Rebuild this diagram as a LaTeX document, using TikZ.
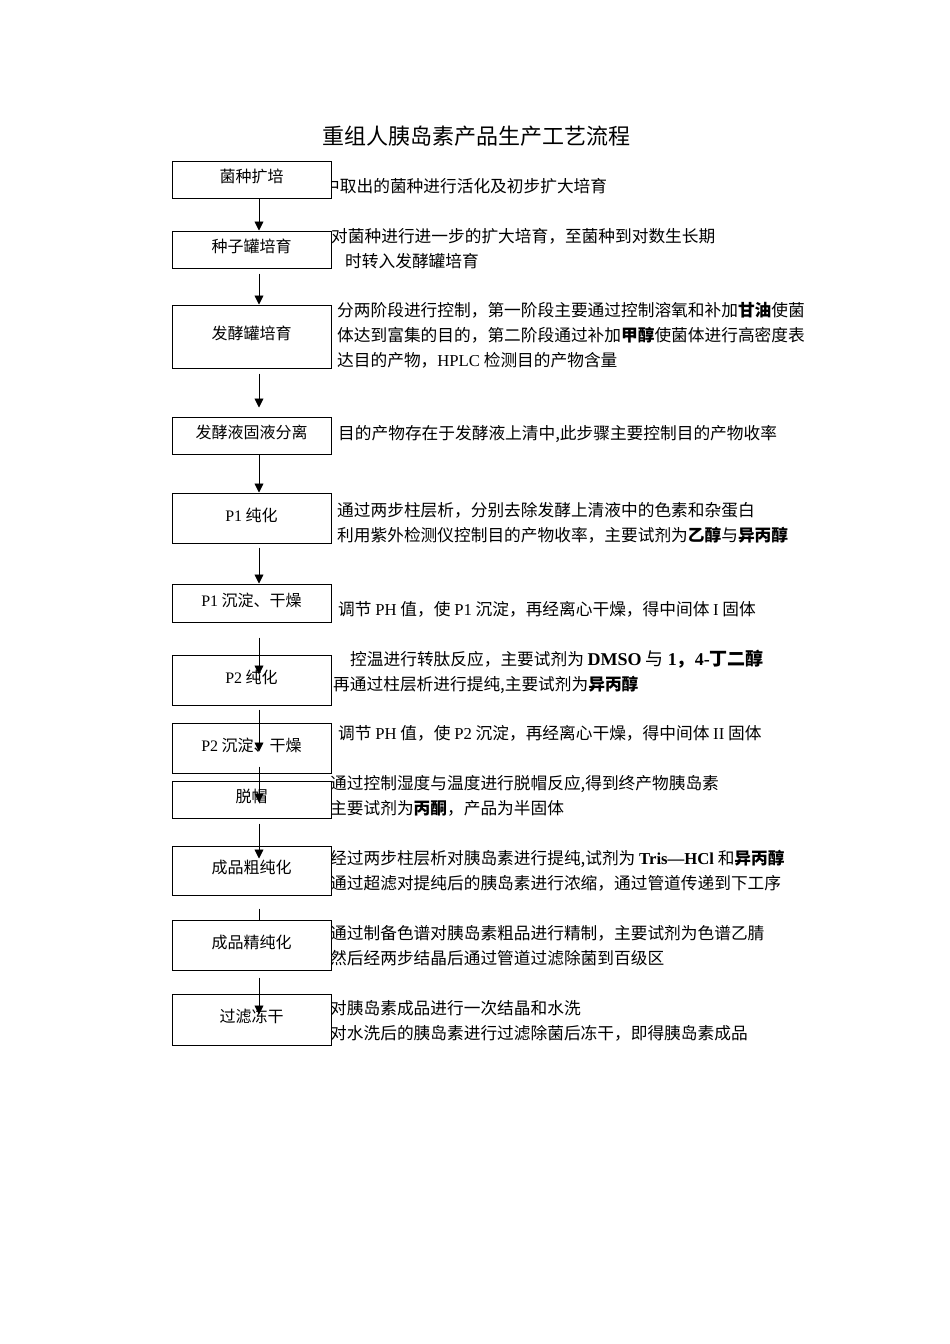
\documentclass[tikz,border=0pt]{standalone}
\usepackage{fontspec}
\setmainfont{Noto Sans CJK SC}
\newfontfamily\lat{Liberation Serif}
\usetikzlibrary{arrows.meta}
\newcommand{\la}[1]{{\lat #1}}
\newcommand{\lb}[1]{{\lat\bfseries #1}}

\begin{document}
\begin{tikzpicture}[x=1pt, y=-1pt,
    stage/.style={draw, fill=white, line width=1pt, minimum width=159pt, inner sep=0pt, text height=12pt, text depth=6pt, font=\fontsize{16}{20}\selectfont},
    note/.style={anchor=west, align=left, inner sep=0pt, font=\fontsize{16.7}{25}\selectfont},
    flow/.style={line width=0.9pt, -{Triangle[length=9pt,width=9pt]}}]

    \useasboundingbox (0,0) rectangle (950,1344);

    % title
    \node[font=\fontsize{22}{26}\selectfont] (title) at (476,136) {重组人胰岛素产品生产工艺流程};

    % notes
    \node[note] (n1) at (323,186) {中取出的菌种进行活化及初步扩大培育};
    \node[note] (n2) at (331,248.5) {对菌种进行进一步的扩大培育，至菌种到对数生长期\\\hspace*{14pt}时转入发酵罐培育};
    \node[note] (n3) at (337,335.5) {分两阶段进行控制，第一阶段主要通过控制溶氧和补加\textbf{甘油}使菌\\体达到富集的目的，第二阶段通过补加\textbf{甲醇}使菌体进行高密度表\\达目的产物，\la{HPLC} 检测目的产物含量};
    \node[note] (n4) at (338,434) {目的产物存在于发酵液上清中,此步骤主要控制目的产物收率};
    \node[note] (n5) at (337,522.5) {通过两步柱层析，分别去除发酵上清液中的色素和杂蛋白\\利用紫外检测仪控制目的产物收率，主要试剂为\textbf{乙醇}与\textbf{异丙醇}};
    \node[note] (n6) at (338,609) {调节 \la{PH} 值，使 \la{P1} 沉淀，再经离心干燥，得中间体 \la{I} 固体};
    \node[note] (n7) at (333,671.5) {\hspace*{17pt}控温进行转肽反应，主要试剂为 {\fontsize{18}{25}\selectfont\lb{DMSO} 与 \textbf{\lat 1}\textbf{，}\lb{4-}\textbf{丁二醇}}\\再通过柱层析进行提纯,主要试剂为\textbf{异丙醇}};
    \node[note] (n8) at (338,733) {调节 \la{PH} 值，使 \la{P2} 沉淀，再经离心干燥，得中间体 \la{II} 固体};
    \node[note] (n9) at (330,796) {通过控制湿度与温度进行脱帽反应,得到终产物胰岛素\\主要试剂为\textbf{丙酮}，产品为半固体};
    \node[note] (n10) at (330,870.5) {经过两步柱层析对胰岛素进行提纯,试剂为 \lb{Tris—HCl} 和\textbf{异丙醇}\\通过超滤对提纯后的胰岛素进行浓缩，通过管道传递到下工序};
    \node[note] (n11) at (330,945.5) {通过制备色谱对胰岛素粗品进行精制，主要试剂为色谱乙腈\\然后经两步结晶后通过管道过滤除菌到百级区};
    \node[note] (n12) at (330,1020.5) {对胰岛素成品进行一次结晶和水洗\\对水洗后的胰岛素进行过滤除菌后冻干，即得胰岛素成品};

    % stages
    \node[stage, minimum height=37pt] (s1) at (251.5,179.5) {菌种扩培};
    \node[stage, minimum height=37pt] (s2) at (251.5,249.5) {种子罐培育};
    \node[stage, minimum height=63pt] (s3) at (251.5,336.5) {发酵罐培育};
    \node[stage, minimum height=37pt] (s4) at (251.5,435.5) {发酵液固液分离};
    \node[stage, minimum height=50pt] (s5) at (251.5,518) {\la{P1} 纯化};
    \node[stage, minimum height=38pt] (s6) at (251.5,603) {\la{P1} 沉淀、干燥};
    \node[stage, minimum height=50pt] (s7) at (251.5,680) {\la{P2} 纯化};
    \node[stage, minimum height=50pt] (s8) at (251.5,748) {\la{P2} 沉淀、干燥};
    \node[stage, minimum height=37pt] (s9) at (251.5,799.5) {脱帽};
    \node[stage, minimum height=49pt] (s10) at (251.5,870.5) {成品粗纯化};
    \node[stage, minimum height=50pt] (s11) at (251.5,945) {成品精纯化};
    \node[stage, minimum height=51pt] (s12) at (251.5,1019.5) {过滤冻干};

    % arrows
    \draw[flow] ([xshift=7.5pt]s1.south) -- ([xshift=7.5pt]s2.north);
    \draw[flow] ([xshift=7.5pt,yshift=-5pt]s2.south) -- ([xshift=7.5pt]s3.north);
    \draw[flow] ([xshift=7.5pt,yshift=-5pt]s3.south) -- ([xshift=7.5pt,yshift=9pt]s4.north);
    \draw[flow] ([xshift=7.5pt]s4.south) -- ([xshift=7.5pt]s5.north);
    \draw[flow] ([xshift=7.5pt,yshift=-4pt]s5.south) -- ([xshift=7.5pt]s6.north);
    \draw[flow] ([xshift=7.5pt,yshift=-15pt]s6.south) -- ([xshift=7.5pt,yshift=-20pt]s7.north);
    \draw[flow] ([xshift=7.5pt,yshift=-4pt]s7.south) -- ([xshift=7.5pt,yshift=-29pt]s8.north);
    \draw[flow] ([xshift=7.5pt,yshift=7pt]s8.south) -- ([xshift=7.5pt,yshift=-22pt]s9.north);
    \draw[flow] ([xshift=7.5pt,yshift=-5pt]s9.south) -- ([xshift=7.5pt,yshift=-13pt]s10.north);
    \draw[line width=0.9pt] ([xshift=7.5pt,yshift=-13pt]s10.south) -- ([xshift=7.5pt]s11.north);
    \draw[flow] ([xshift=7.5pt,yshift=-7pt]s11.south) -- ([xshift=7.5pt,yshift=-21pt]s12.north);

\end{tikzpicture}
\end{document}
